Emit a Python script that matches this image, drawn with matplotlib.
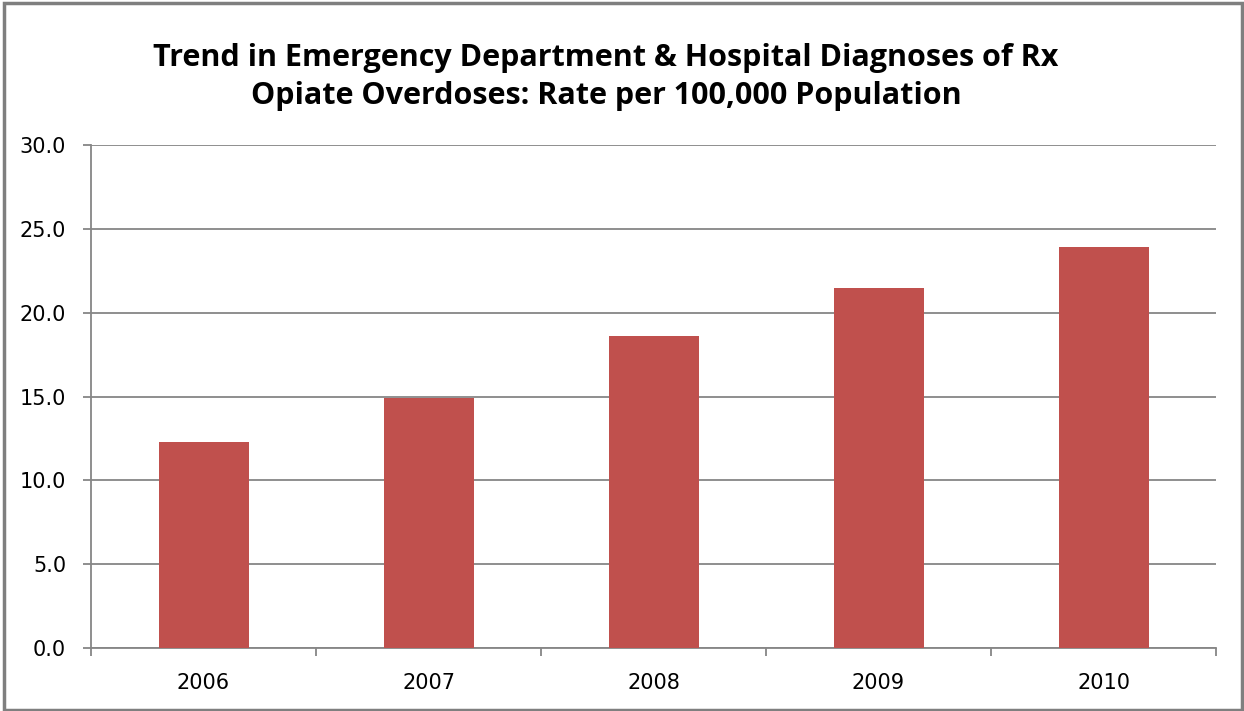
import matplotlib.pyplot as plt
from matplotlib.patches import Rectangle

years = ["2006", "2007", "2008", "2009", "2010"]
rates = [12.3, 14.9, 18.6, 21.5, 23.9]
y_ticks = [0, 5, 10, 15, 20, 25, 30]

bar_color = "#C0504D"
grid_color = "#868686"

fig = plt.figure(figsize=(12.44, 7.11), dpi=100)
ax = fig.add_axes([0.0732, 0.0886, 0.9043, 0.7074])

x = range(len(years))
ax.bar(x, rates, width=0.4, color=bar_color, zorder=3)

ax.set_xlim(-0.5, len(years) - 0.5)
ax.set_ylim(0, 30)
ax.set_yticks(y_ticks)
ax.set_yticklabels([f"{v:.1f}" for v in y_ticks], fontsize=15, family="DejaVu Sans")
ax.set_xticks(list(x))
ax.set_xticklabels(years, fontsize=15, family="DejaVu Sans")

# category boundary ticks on the x axis
ax.set_xticks([i - 0.5 for i in range(len(years) + 1)], minor=True)
ax.tick_params(axis="x", which="major", length=0, pad=18)
ax.tick_params(axis="x", which="minor", length=6, color=grid_color, width=1.3)
ax.tick_params(axis="y", length=6, color=grid_color, width=1.3, pad=12)

ax.yaxis.grid(True, color=grid_color, linewidth=1.3, zorder=0)
for side in ["top", "right"]:
    ax.spines[side].set_visible(False)
for side in ["left", "bottom"]:
    ax.spines[side].set_color(grid_color)
    ax.spines[side].set_linewidth(1.3)

fig.text(0.487, 0.892,
         "Trend in Emergency Department & Hospital Diagnoses of Rx\n"
         "Opiate Overdoses: Rate per 100,000 Population",
         ha="center", va="center", fontsize=22, fontweight="bold",
         family="Open Sans", linespacing=1.35)

# outer chart border
fig.patches.append(Rectangle((0.003, 0.002), 0.995, 0.994, transform=fig.transFigure,
                             fill=False, edgecolor="#7F7F7F", linewidth=2.5))

fig.savefig("out.png", dpi=100)
